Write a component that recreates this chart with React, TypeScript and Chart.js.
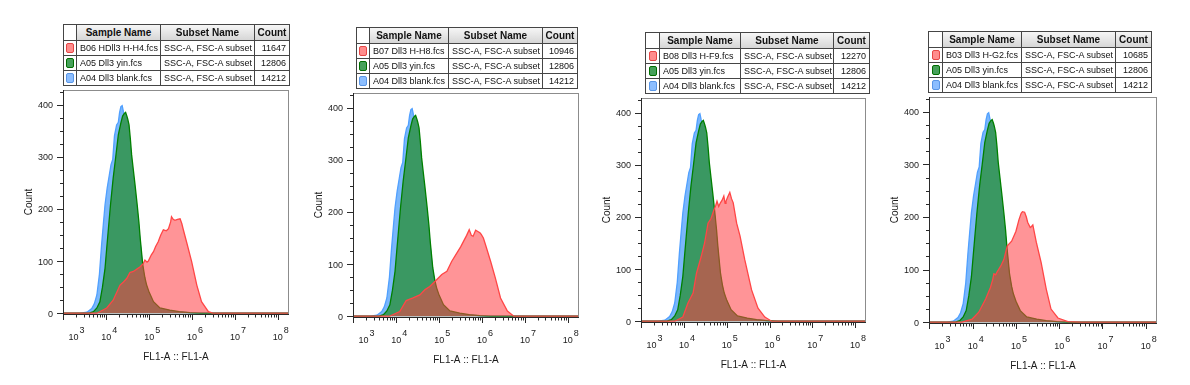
import React, { useEffect, useRef } from 'react';
import { Chart, registerables } from 'chart.js';

Chart.register(...registerables);

// ---------- data (x in log10 units of FL1-A, y = Count) ----------
const DECADES = [3, 4, 5, 6, 7, 8];
const COUNT_TICKS = [0, 100, 200, 300, 400];

const blankX = [2.9, 3.4, 3.55, 3.66, 3.72, 3.78, 3.84, 3.89, 3.93, 3.97, 4.02, 4.07, 4.11, 4.15, 4.19, 4.24, 4.28, 4.31, 4.34, 4.37, 4.4, 4.44, 4.48, 4.53, 4.59, 4.67, 4.72, 4.79, 4.85, 4.94, 5.1, 5.25, 5.5, 5.9, 6.1, 8.3];
const blankY = [0, 0, 2, 9, 18, 35, 75, 131, 170, 208, 240, 265, 285, 295, 340, 361, 366, 385, 396, 398, 386, 372, 360, 338, 290, 230, 195, 135, 85, 48, 18, 8, 4, 1, 0, 0];

const yinX = [2.9, 3.6, 3.7, 3.78, 3.85, 3.91, 3.97, 4.01, 4.05, 4.1, 4.16, 4.22, 4.28, 4.34, 4.38, 4.42, 4.45, 4.48, 4.5, 4.53, 4.56, 4.59, 4.63, 4.67, 4.72, 4.76, 4.79, 4.85, 4.9, 4.94, 5.0, 5.1, 5.25, 5.48, 5.7, 5.95, 6.2, 8.3];
const yinY = [0, 0, 3, 10, 22, 50, 86, 125, 163, 210, 259, 300, 342, 365, 378, 383, 385, 378, 372, 361, 335, 304, 275, 246, 208, 175, 144, 93, 68, 54, 40, 22, 10, 6, 3, 1, 0, 0];

const h4X = [2.9, 3.78, 4.01, 4.16, 4.32, 4.4, 4.48, 4.55, 4.63, 4.72, 4.79, 4.86, 4.9, 4.95, 4.98, 5.05, 5.1, 5.15, 5.21, 5.27, 5.33, 5.4, 5.45, 5.5, 5.52, 5.56, 5.6, 5.66, 5.72, 5.76, 5.79, 5.87, 5.99, 6.11, 6.22, 6.38, 6.48, 8.3];
const h4Y = [0, 0, 10, 25, 54, 60, 67, 78, 80, 85, 89, 95, 102, 98, 100, 112, 118, 128, 137, 150, 160, 158, 162, 175, 185, 180, 178, 180, 181, 172, 162, 137, 99, 54, 22, 3, 0, 0];

const h8X = [2.9, 3.84, 4.08, 4.23, 4.39, 4.55, 4.67, 4.78, 4.94, 5.06, 5.18, 5.29, 5.41, 5.5, 5.57, 5.64, 5.7, 5.75, 5.79, 5.85, 5.91, 5.95, 5.98, 6.03, 6.08, 6.2, 6.31, 6.43, 6.59, 6.74, 8.3];
const h8Y = [0, 0, 9, 30, 35, 41, 51, 57, 70, 80, 86, 105, 121, 133, 144, 155, 166, 155, 153, 165, 162, 160, 157, 150, 137, 105, 73, 35, 10, 0, 0];

const f9X = [2.9, 3.78, 3.97, 4.09, 4.21, 4.29, 4.4, 4.48, 4.56, 4.63, 4.7, 4.74, 4.77, 4.81, 4.85, 4.89, 4.93, 4.96, 4.98, 5.02, 5.07, 5.11, 5.15, 5.23, 5.31, 5.42, 5.58, 5.73, 5.89, 6.05, 8.3];
const f9Y = [0, 0, 8, 35, 54, 92, 124, 150, 188, 197, 214, 222, 230, 220, 227, 232, 240, 226, 230, 238, 247, 235, 227, 188, 163, 118, 60, 25, 8, 0, 0];

const g2X = [2.9, 3.75, 3.99, 4.14, 4.3, 4.41, 4.46, 4.49, 4.53, 4.56, 4.65, 4.72, 4.8, 4.9, 5.0, 5.07, 5.12, 5.15, 5.2, 5.24, 5.27, 5.33, 5.36, 5.39, 5.47, 5.58, 5.7, 5.81, 5.97, 6.2, 6.5, 8.3];
const g2Y = [0, 0, 6, 19, 44, 66, 80, 92, 90, 95, 107, 119, 145, 154, 173, 195, 207, 210, 209, 200, 190, 180, 182, 185, 152, 114, 63, 25, 8, 1, 0, 0];

const SUBSET = 'SSC-A, FSC-A subset';
const redNames = ['B06 HDll3 H-H4.fcs', 'B07 Dll3 H-H8.fcs', 'B08 Dll3 H-F9.fcs', 'B03 Dll3 H-G2.fcs'];
const redCounts = [11647, 10946, 12270, 10685];
const redXs = [h4X, h8X, f9X, g2X];
const redYs = [h4Y, h8Y, f9Y, g2Y];
const yinName = 'A05 Dll3 yin.fcs';
const yinCount = 12806;
const blankName = 'A04 Dll3 blank.fcs';
const blankCount = 14212;
const HEADERS = ['', 'Sample Name', 'Subset Name', 'Count'];

// ---------- layout / style ----------
const W = 1190;
const H = 385;
const FONT = '"Liberation Sans", Arial, Helvetica, sans-serif';

const PLOTS = [
  { l: 63, t: 90, r: 289, b: 314 },
  { l: 353, t: 93, r: 579, b: 317 },
  { l: 641, t: 98, r: 866, b: 322 },
  { l: 929, t: 97, r: 1157, b: 323 },
];
const TABLES = [
  { l: 63, t: 24, cols: [13, 84, 94, 35] },
  { l: 356, t: 27, cols: [13, 79, 94, 35] },
  { l: 645, t: 32, cols: [14, 81, 93, 36] },
  { l: 928, t: 31, cols: [14, 79, 94, 36] },
];
const HEAD_H = 16;
const ROW_H = 15;

const RED = { fill: 'rgba(255,60,65,0.55)', line: 'rgb(255,70,70)', swFill: 'rgb(255,140,140)', swLine: 'rgb(230,70,70)' };
const GREEN = { fill: 'rgb(58,152,98)', line: 'rgb(0,128,0)', swFill: 'rgb(70,160,90)', swLine: 'rgb(0,110,0)' };
const BLUE = { fill: 'rgb(122,182,250)', line: 'rgb(80,160,255)', swFill: 'rgb(140,190,255)', swLine: 'rgb(90,150,230)' };

const toPoints = (xs: number[], ys: number[]) => xs.map((x, i) => ({ x, y: ys[i] }));

const axesPlugin = {
  id: 'flowAxes',
  afterDraw(chart: any) {
    const { ctx, chartArea: a, scales } = chart;
    const x = scales.x;
    const y = scales.y;
    ctx.save();
    // plot box
    ctx.strokeStyle = '#8c8c8c';
    ctx.lineWidth = 1;
    ctx.strokeRect(a.left + 0.5, a.top + 0.5, a.right - a.left - 1, a.bottom - a.top);
    ctx.strokeStyle = '#2a2a2a';
    ctx.beginPath();
    ctx.moveTo(a.left + 0.5, a.top);
    ctx.lineTo(a.left + 0.5, a.bottom + 0.5);
    ctx.lineTo(a.right, a.bottom + 0.5);
    ctx.stroke();

    // y ticks
    ctx.beginPath();
    for (let v = 0; v <= 425; v += 25) {
      const py = Math.round(y.getPixelForValue(v)) + 0.5;
      const len = v % 100 === 0 ? 6 : 3;
      ctx.moveTo(a.left - len, py);
      ctx.lineTo(a.left, py);
    }
    // x ticks
    DECADES.forEach((d) => {
      const px = Math.round(x.getPixelForValue(d)) + 0.5;
      ctx.moveTo(px, a.bottom);
      ctx.lineTo(px, a.bottom + 6);
      if (d < 8) {
        for (let k = 2; k <= 9; k++) {
          const mx = Math.round(x.getPixelForValue(d + Math.log10(k))) + 0.5;
          ctx.moveTo(mx, a.bottom);
          ctx.lineTo(mx, a.bottom + 3.5);
        }
      }
    });
    ctx.stroke();

    ctx.fillStyle = '#1a1a1a';
    // y labels
    ctx.font = `9px ${FONT}`;
    ctx.textAlign = 'right';
    ctx.textBaseline = 'middle';
    COUNT_TICKS.forEach((v) => {
      ctx.fillText(String(v), a.left - 10, y.getPixelForValue(v) + 1);
    });
    // x labels
    DECADES.forEach((d, i) => {
      const px = x.getPixelForValue(d);
      const bx = i === 0 ? px + 10 : px;
      ctx.textAlign = 'center';
      ctx.fillText('10', bx, a.bottom + 24);
      ctx.textAlign = 'left';
      ctx.fillText(String(d), bx + 6, a.bottom + 17);
    });
    // titles
    ctx.font = `10px ${FONT}`;
    ctx.textAlign = 'center';
    ctx.fillText('FL1-A :: FL1-A', (a.left + a.right) / 2, a.bottom + 43);
    ctx.translate(a.left - 34, (a.top + a.bottom) / 2);
    ctx.rotate(-Math.PI / 2);
    ctx.fillText('Count', 0, 0);
    ctx.restore();
  },
};

function HistPanel({ idx }: { idx: number }) {
  const ref = useRef<HTMLCanvasElement | null>(null);
  useEffect(() => {
    const p = PLOTS[idx];
    const chart = new Chart(ref.current as HTMLCanvasElement, {
      type: 'line',
      data: {
        datasets: [
          {
            label: redNames[idx],
            data: toPoints(redXs[idx], redYs[idx]),
            borderColor: RED.line,
            backgroundColor: RED.fill,
            fill: 'origin',
            borderWidth: 1.3,
          },
          {
            label: yinName,
            data: toPoints(yinX, yinY),
            borderColor: GREEN.line,
            backgroundColor: GREEN.fill,
            fill: 'origin',
            borderWidth: 1.3,
          },
          {
            label: blankName,
            data: toPoints(blankX, blankY),
            borderColor: BLUE.line,
            backgroundColor: BLUE.fill,
            fill: 'origin',
            borderWidth: 1.3,
          },
        ],
      },
      options: {
        animation: false,
        responsive: false,
        maintainAspectRatio: false,
        layout: { padding: { left: p.l, top: p.t, right: W - p.r, bottom: H - p.b } },
        plugins: { legend: { display: false }, tooltip: { enabled: false } },
        elements: { point: { radius: 0 }, line: { tension: 0 } },
        scales: {
          x: { type: 'linear', min: 2.99, max: 8.26, display: false },
          y: { type: 'linear', min: -1.5, max: 428, display: false },
        },
      },
      plugins: [axesPlugin],
    } as any);
    return () => chart.destroy();
  }, [idx]);
  return (
    <canvas
      ref={ref}
      width={W}
      height={H}
      style={{ position: 'absolute', left: 0, top: 0, width: W, height: H }}
    />
  );
}

function LegendTable({ idx }: { idx: number }) {
  const t = TABLES[idx];
  const rows = [
    { name: redNames[idx], count: redCounts[idx], c: RED },
    { name: yinName, count: yinCount, c: GREEN },
    { name: blankName, count: blankCount, c: BLUE },
  ];
  const colX: number[] = [];
  let acc = 0;
  t.cols.forEach((w) => {
    colX.push(acc);
    acc += w;
  });
  const cells: any[] = [];
  const cellStyle = (cx: number, cy: number, cw: number, ch: number): any => ({
    position: 'absolute',
    left: t.l + cx,
    top: t.t + cy,
    width: cw + 1,
    height: ch + 1,
    boxSizing: 'border-box',
    border: '1px solid #454545',
    display: 'flex',
    alignItems: 'center',
    overflow: 'hidden',
    whiteSpace: 'nowrap',
    fontFamily: FONT,
    color: '#111',
  });
  HEADERS.forEach((h, ci) => {
    cells.push(
      <div
        key={`h${ci}`}
        style={{
          ...cellStyle(colX[ci], 0, t.cols[ci], HEAD_H),
          justifyContent: 'center',
          fontWeight: 'bold',
          fontSize: 10,
          background: ci === 0 ? '#ffffff' : 'linear-gradient(#f6f6f6, #d6d6d6)',
        }}
      >
        {h}
      </div>
    );
  });
  rows.forEach((r, ri) => {
    const cy = HEAD_H + ri * ROW_H;
    cells.push(
      <div key={`s${ri}`} style={{ ...cellStyle(colX[0], cy, t.cols[0], ROW_H), justifyContent: 'center', background: '#fff' }}>
        <div
          style={{
            width: 8,
            height: 10,
            boxSizing: 'border-box',
            borderRadius: 2,
            border: `1px solid ${r.c.swLine}`,
            background: r.c.swFill,
          }}
        />
      </div>
    );
    cells.push(
      <div key={`n${ri}`} style={{ ...cellStyle(colX[1], cy, t.cols[1], ROW_H), fontSize: 9, paddingLeft: 3, background: '#fff' }}>
        {r.name}
      </div>
    );
    cells.push(
      <div key={`b${ri}`} style={{ ...cellStyle(colX[2], cy, t.cols[2], ROW_H), fontSize: 9, paddingLeft: 3, background: '#fff' }}>
        {SUBSET}
      </div>
    );
    cells.push(
      <div
        key={`c${ri}`}
        style={{ ...cellStyle(colX[3], cy, t.cols[3], ROW_H), fontSize: 9, justifyContent: 'flex-end', paddingRight: 3, background: '#fff' }}
      >
        {String(r.count)}
      </div>
    );
  });
  return <>{cells}</>;
}

export default function App() {
  return (
    <div
      style={{
        position: 'absolute',
        left: 0,
        top: 0,
        width: W,
        height: H,
        background: '#fff',
        overflow: 'hidden',
      }}
    >
      {[0, 1, 2, 3].map((i) => (
        <HistPanel key={`p${i}`} idx={i} />
      ))}
      {[0, 1, 2, 3].map((i) => (
        <LegendTable key={`t${i}`} idx={i} />
      ))}
    </div>
  );
}
